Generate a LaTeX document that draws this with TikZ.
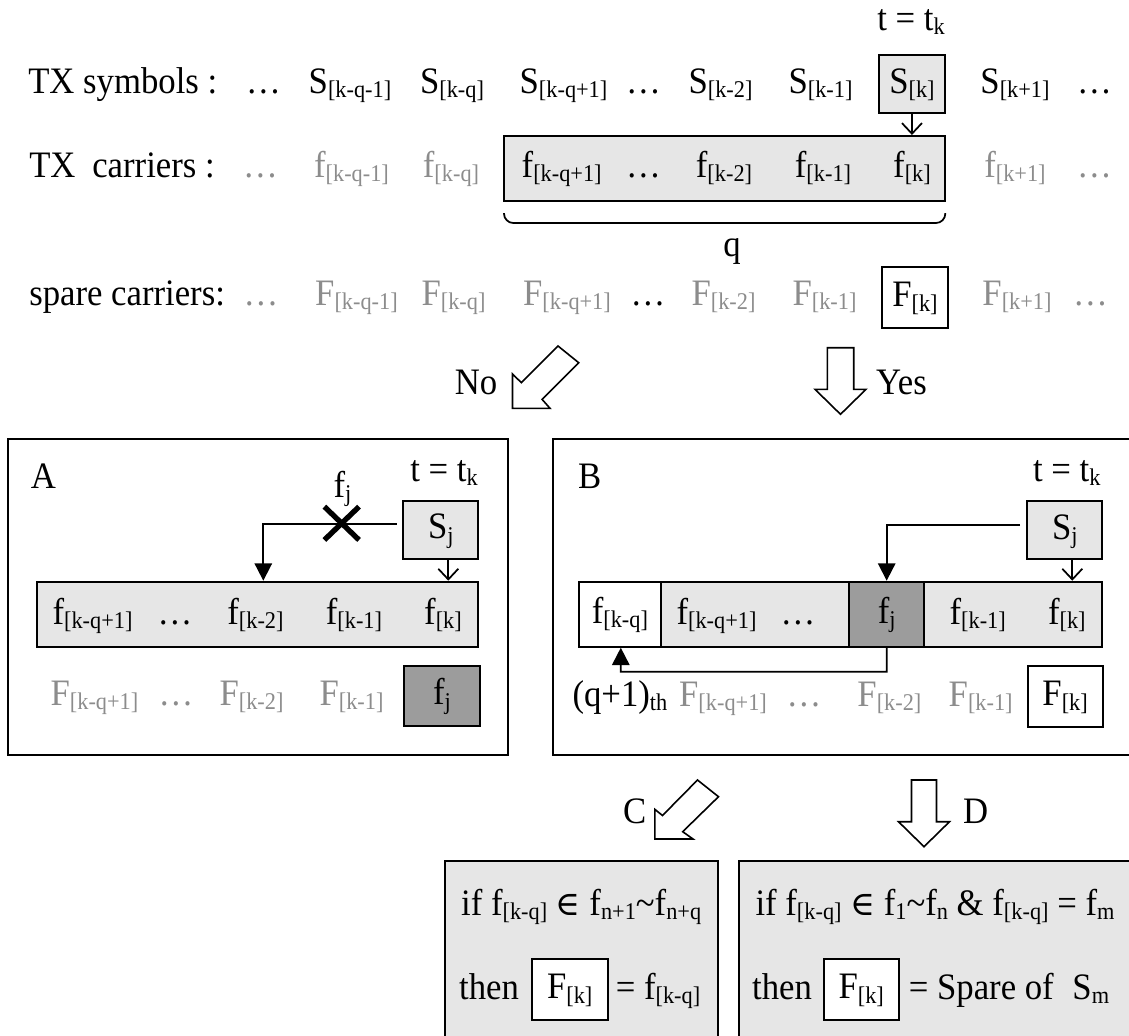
\documentclass[tikz,border=0pt]{standalone}
\usepackage{fontspec}
\setmainfont{Liberation Serif}[FakeStretch=0.93]
\newfontfamily\symfont{DejaVu Serif}[Scale=0.9]
\usetikzlibrary{arrows.meta,fit,shapes.misc}

\definecolor{cellgray}{HTML}{E6E6E6}
\definecolor{darkcell}{HTML}{9C9C9C}
\definecolor{fadetext}{HTML}{8C8C8C}

% lowered, smaller index text
\newcommand{\sbs}[1]{\raisebox{-3.5pt}{\fontsize{18}{20}\selectfont #1}}
\newcommand{\elem}{{\symfont ∈}}

\begin{document}
\begin{tikzpicture}[x=0.75pt,y=-0.75pt,
  every node/.style={font=\fontsize{28}{32}\selectfont, inner sep=0pt,
                     text height=19.5pt, text depth=6pt},
  txt/.style={anchor=base},
  faded/.style={anchor=base, text=fadetext},
  frame/.style={draw, line width=1.5pt},
  cellbox/.style={draw, line width=1.5pt, fill=cellgray},
  darkbox/.style={draw, line width=1.5pt, fill=darkcell},
  whitebox/.style={draw, line width=1.5pt, fill=white},
  feed/.style={draw, line width=1.3pt, -{Straight Barb[length=8pt,width=15pt]}},
  route/.style={draw, line width=1.4pt, -{Triangle[length=13pt,width=13pt]}},
  blockarrow/.style={draw, line width=1.2pt, fill=white, line join=miter},
  xmark/.style={draw, cross out, line width=4pt, minimum width=22pt,
                minimum height=21pt, text height=0pt, text depth=0pt},
]
\useasboundingbox (0,0) rectangle (1129,1036);
\clip (0,0) rectangle (1129,1036);

% ---------- transmitted symbols ----------
\node[txt] (tkTop) at (911,30) {t = t\sbs{k}};
\node[txt, anchor=base west] (symLbl) at (28,93) {TX symbols :};
\node[txt] (sDots1) at (263.5,93) {…};
\node[txt] (sA) at (350,93) {S\sbs{[k-q-1]}};
\node[txt] (sB) at (452,93) {S\sbs{[k-q]}};
\node[txt] (sC) at (563.5,93) {S\sbs{[k-q+1]}};
\node[txt] (sDots2) at (643.5,93) {…};
\node[txt] (sD) at (720.5,93) {S\sbs{[k-2]}};
\node[txt] (sE) at (820.5,93) {S\sbs{[k-1]}};
\node[cellbox, fit={(878.6,55) (945.3,113.3)}] (sK) {};
\node (sKt) at (sK.center) {S\sbs{[k]}};
\node[txt] (sF) at (1015,93) {S\sbs{[k+1]}};
\node[txt] (sDots3) at (1094.5,93) {…};

% ---------- transmitted carriers ----------
\node[cellbox, fit={(504,136) (945.3,201)}] (carr) {};
\node[txt, anchor=base west] (carLbl) at (29,177) {TX\hspace{0.45em}carriers :};
\node[faded] (fDots1) at (260.5,177) {…};
\node[faded] (fA) at (351.5,177) {f\sbs{[k-q-1]}};
\node[faded] (fB) at (451,177) {f\sbs{[k-q]}};
\node[txt] (fC) at (561.7,177) {f\sbs{[k-q+1]}};
\node[txt] (fDots2) at (643.5,177) {…};
\node[txt] (fD) at (724,177) {f\sbs{[k-2]}};
\node[txt] (fE) at (823,177) {f\sbs{[k-1]}};
\node[txt] (fK) at (912,177) {f\sbs{[k]}};
\node[faded] (fF) at (1015,177) {f\sbs{[k+1]}};
\node[faded] (fDots3) at (1094.5,177) {…};

\draw[feed] (sK.south) -- (sK.south |- carr.north);

% bracket under the q carriers
\coordinate (brL) at (504,213);
\coordinate (brR) at (945.3,213);
\draw[line width=1.3pt, rounded corners=7] (brL) -- ++(0,10) -- ([yshift=-7.5pt]brR) -- (brR);
\node[txt] (qLbl) at (732,256) {q};

% ---------- spare carriers ----------
\node[txt, anchor=base west] (spLbl) at (29,305) {spare carriers:};
\node[faded] (pDots1) at (261,305) {…};
\node[faded] (pA) at (356.5,305) {F\sbs{[k-q-1]}};
\node[faded] (pB) at (453.5,305) {F\sbs{[k-q]}};
\node[faded] (pC) at (567,305) {F\sbs{[k-q+1]}};
\node[txt] (pDots2) at (648,305) {…};
\node[faded] (pD) at (723.5,305) {F\sbs{[k-2]}};
\node[faded] (pE) at (824.5,305) {F\sbs{[k-1]}};
\node[whitebox, fit={(882,267) (948,328)}] (pK) {};
\node (pKt) at (pK.center) {F\sbs{[k]}};
\node[faded] (pF) at (1017,305) {F\sbs{[k+1]}};
\node[faded] (pDots3) at (1090.5,305) {…};

% ---------- decision arrows ----------
\draw[blockarrow] (512.5,408.3) -- (512.5,374) -- (521.4,382.7) -- (558,346)
  -- (578.7,362.7) -- (542.1,399.4) -- (550,408.3) -- cycle;
\node[txt] (noLbl) at (476,394) {No};
\draw[blockarrow] (840.5,414.3) -- (815,389.3) -- (827.4,389.3) -- (827.4,347.7)
  -- (853.7,347.7) -- (853.7,389.3) -- (866,389.3) -- cycle;
\node[txt] (yesLbl) at (901.5,394) {Yes};

% ---------- case A ----------
\node[frame, fit={(8.3,439.3) (508.3,755)}] (boxA) {};
\node[txt] (labA) at (43.3,488) {A};
\node[txt] (tkA) at (444,481) {t = t\sbs{k}};
\node[cellbox, fit={(403.3,500.7) (478.3,559)}] (sjA) {};
\node (sjAt) at (sjA.center) {S\sbs{j}};
\node[cellbox, fit={(36.7,581.7) (478.3,646.7)}] (carrA) {};
\node[txt] (aF1) at (92.5,624) {f\sbs{[k-q+1]}};
\node[txt] (aDots) at (175,624) {…};
\node[txt] (aF2) at (255.5,624) {f\sbs{[k-2]}};
\node[txt] (aF3) at (354,624) {f\sbs{[k-1]}};
\node[txt] (aF4) at (443,624) {f\sbs{[k]}};
\node[faded] (aS1) at (94.5,705) {F\sbs{[k-q+1]}};
\node[faded] (aSDots) at (176,705) {…};
\node[faded] (aS2) at (251.5,705) {F\sbs{[k-2]}};
\node[faded] (aS3) at (351.5,705) {F\sbs{[k-1]}};
\node[darkbox, fit={(404,665.7) (480,725.7)}] (fjA) {};
\node (fjAt) at (fjA.center) {f\sbs{j}};

\coordinate (startA) at (396.7,524.3);
\coordinate (turnA) at (263.3,524.3);
\draw[route] (startA) -- (turnA) -- (turnA |- carrA.north);
\node[xmark] (xA) at (341.7,523.3) {};
\node[txt] (fjLbl) at (342.5,497) {f\sbs{j}};
\coordinate (fdA) at (448.3,559);
\draw[feed] (fdA) -- (fdA |- carrA.north);

% ---------- case B ----------
\node[frame, fit={(553.1,439.3) (1140,755)}] (boxB) {};
\node[txt] (labB) at (589.7,488) {B};
\node[txt] (tkB) at (1066.8,481) {t = t\sbs{k}};
\node[cellbox, fit={(1027.2,501) (1102.4,559.3)}] (sjB) {};
\node (sjBt) at (sjB.center) {S\sbs{j}};
\node[whitebox, fit={(578.7,581.7) (661,646.7)}] (c1) {};
\node[cellbox, fit={(661,581.7) (849.2,646.7)}] (c2) {};
\node[darkbox, fit={(849.2,581.7) (924.3,646.7)}] (c3) {};
\node[cellbox, fit={(924.3,581.7) (1102.4,646.7)}] (c4) {};
\node (c1t) at (c1.center) {f\sbs{[k-q]}};
\node (c3t) at (c3.center) {f\sbs{j}};
\node[txt] (bF1) at (716.5,624) {f\sbs{[k-q+1]}};
\node[txt] (bDots) at (798,624) {…};
\node[txt] (bF2) at (977.7,624) {f\sbs{[k-1]}};
\node[txt] (bF3) at (1066.8,624) {f\sbs{[k]}};

\coordinate (startB) at (1020,525);
\coordinate (turnB) at (886.7,525);
\draw[route] (startB) -- (turnB) -- (turnB |- c3.north);
\coordinate (fdB) at (1072.3,559.3);
\draw[feed] (fdB) -- (fdB |- c4.north);

\coordinate (loopR) at (886.7,671.7);
\coordinate (loopL) at (620.8,671.7);
\draw[route] (c3.south) -- (loopR) -- (loopL) -- (loopL |- c1.south);

\node[txt] (qth) at (619.9,706) {(q+1)\sbs{th}};
\node[faded] (bS1) at (723,706) {F\sbs{[k-q+1]}};
\node[faded] (bSDots) at (804,706) {…};
\node[faded] (bS2) at (889.4,706) {F\sbs{[k-2]}};
\node[faded] (bS3) at (980.7,706) {F\sbs{[k-1]}};
\node[whitebox, fit={(1027.6,666) (1102.7,726.7)}] (fkB) {};
\node (fkBt) at (fkB.center) {F\sbs{[k]}};

% ---------- cases C and D ----------
\draw[blockarrow] (654.8,839) -- (654.8,809.3) -- (662.5,815.5) -- (697.5,780)
  -- (718.5,796.7) -- (682.7,831.7) -- (693,839) -- cycle;
\node[txt] (cLbl) at (634.8,823) {C};
\draw[blockarrow] (924,846.7) -- (898.5,821.7) -- (911.5,821.7) -- (911.5,780)
  -- (936.5,780) -- (936.5,821.7) -- (949.5,821.7) -- cycle;
\node[txt] (dLbl) at (975.7,823) {D};

\node[cellbox, fit={(444.9,861) (718.4,1050)}] (boxC) {};
\node[cellbox, fit={(738.8,861) (1140,1050)}] (boxD) {};

\node[txt] (cIf) at (581.2,915) {if f\sbs{[k-q]} \elem{} f\sbs{n+1}\textasciitilde f\sbs{n+q}};
\node[txt] (cThen) at (489,999) {then};
\node[whitebox, fit={(531.6,959.3) (607.8,1020)}] (fkC) {};
\node (fkCt) at (fkC.center) {F\sbs{[k]}};
\node[txt] (cEq) at (658,999) {= f\sbs{[k-q]}};

\node[txt] (dIf) at (935,915) {if f\sbs{[k-q]} \elem{} f\sbs{1}\textasciitilde f\sbs{n} \& f\sbs{[k-q]} = f\sbs{m}};
\node[txt] (dThen) at (782,999) {then};
\node[whitebox, fit={(823.5,959.3) (899,1020)}] (fkD) {};
\node (fkDt) at (fkD.center) {F\sbs{[k]}};
\node[txt] (dEq) at (1009,999) {= Spare of\hspace{0.5em}S\sbs{m}};
\end{tikzpicture}
\end{document}
